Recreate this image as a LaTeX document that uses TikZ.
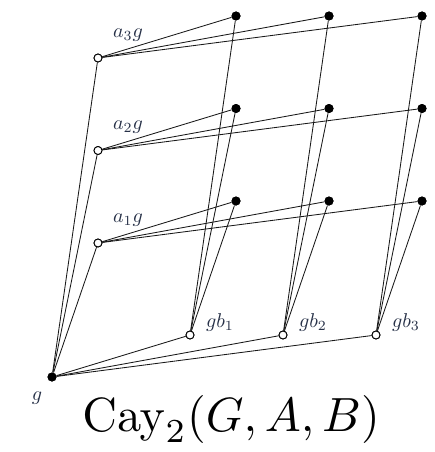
\documentclass[tikz,border=0pt]{standalone}
\usepackage{amsmath}
\definecolor{labcol}{rgb}{0.15,0.19,0.28}
\begin{document}
\begin{tikzpicture}[x=1pt,y=-1pt,
  edge/.style={draw=black!90,line width=0.85pt},
  opendot/.style={circle,draw=black,fill=white,line width=0.9pt,inner sep=0pt,minimum size=8pt},
  fulldot/.style={circle,fill=black,inner sep=0pt,minimum size=9pt},
  lab/.style={text=labcol,scale=2.0,inner sep=0pt}]
\useasboundingbox (0,0) rectangle (435,452);
\node[fulldot] (g) at (52,377) {};
\foreach \i/\y in {1/243,2/150.5,3/58}{
  \node[opendot] (a\i) at (98,\y) {};
}
\foreach \j/\x in {1/190,2/283,3/376}{
  \node[opendot] (b\j) at (\x,335) {};
}
\foreach \i in {1,2,3}{
  \foreach \j in {1,2,3}{
    \pgfmathsetmacro{\fx}{236+93*(\j-1)}
    \pgfmathsetmacro{\fy}{201-92.5*(\i-1)}
    \node[fulldot] (f\i\j) at (\fx,\fy) {};
  }
}
\foreach \i in {1,2,3}{
  \draw[edge] (g) -- (a\i);
  \draw[edge] (g) -- (b\i);
  \foreach \j in {1,2,3}{
    \draw[edge] (a\i) -- (f\i\j);
    \draw[edge] (b\j) -- (f\i\j);
  }
}
% redraw dots on top
\node[fulldot] at (g) {};
\foreach \i in {1,2,3}{
  \node[opendot] at (a\i) {};
  \node[opendot] at (b\i) {};
  \foreach \j in {1,2,3}{ \node[fulldot] at (f\i\j) {}; }
}
\foreach \i in {1,2,3}{
  \node[lab] (la\i) at ([shift={(30,-23)}]a\i) {$a_{\i}g$};
  \node[lab] (lb\i) at ([shift={(30,-13)}]b\i) {$gb_{\i}$};
}
\node[lab] (lg) at (37,398) {$g$};
\node[scale=4.8,anchor=base,inner sep=0pt] (title) at (231,431) {$\mathrm{Cay}_2(G,A,B)$};
\end{tikzpicture}
\end{document}
